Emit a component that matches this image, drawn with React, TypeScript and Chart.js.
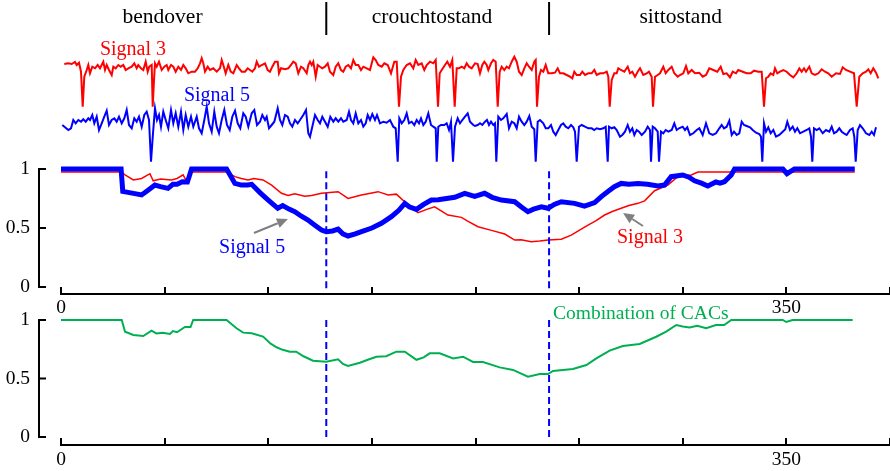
import React, { useEffect, useRef } from 'react';
import { Chart, registerables } from 'chart.js';

Chart.register(...registerables);

const FONT = "'Liberation Serif', 'Times New Roman', serif";

// ---- phases / axes ----
const phaseNames = ['bendover', 'crouchtostand', 'sittostand'];
const phaseLabelX = [49, 179, 299];
const phaseBounds = [128, 235.5];
const xTickLabels = [0, 350];
const yTicks = [0, 0.5, 1];

// ---- raw signals (sample index, amplitude) ----
const signal3Raw: [number, number][] = [
  [3.3,4.3],[7.3,4.37],[10.7,4.3],[14,4.5],[15.7,4.2],[18,4.43],[20,3.53],[21.7,0.03],[23.3,3.03],[25.7,3.7],[27.3,4.2],[29,3.37],[31.3,4.03],[34,3.87],[36.7,4.2],[39,3.87],[42.3,4.53],[44,3.7],[45.7,4.2],[48,3.7],[50.7,3.2],[52.3,4.03],[54.7,3.87],[57.3,4.2],[59.7,4.03],[62.3,4.2],[64.7,3.7],[67.3,3.87],[70.7,4.03],[73.3,4.37],[75.7,3.87],[77.3,4.2],[80,3.87],[82.3,3.7],[84.7,4.53],[86.7,3.53],[88.3,4.03],[90.7,4.2],[91.7,0.03],[93,2.7],[94,4.37],[95.7,4.03],[98,4.53],[100.7,3.7],[103.3,4.03],[105.7,4.2],[107.3,3.7],[110,4.2],[112.3,4.03],[114.7,3.53],[117.3,4.03],[120,3.7],[122.3,4.2],[124.7,3.87],[127.3,3.37],[130.7,3.53],[134,3.53],[136.7,3.87],[139,4.37],[140.7,4.87],[142.3,4.37],[144,3.53],[146.7,4.03],[149,3.7],[152.3,3.87],[155.7,3.53],[159,3.87],[160.7,4.7],[162.3,4.2],[164.7,3.37],[167.3,4.2],[169.7,3.53],[172.3,3.37],[175.7,4.2],[178,3.87],[180.7,3.53],[184,3.53],[186.7,3.87],[189,3.7],[191.3,3.53],[194,3.87],[195.7,4.53],[198,4.03],[200.7,4.2],
  [204,4.37],[206.7,3.7],[209,3.53],[211.3,4.03],[214,4.53],[216.7,4.53],[218,3.37],[220,3.87],[224,3.77],[227.3,3.87],[230,4.2],[232.3,4.53],[234.7,4.37],[237.3,3.37],[240,4.03],[242.3,3.87],[245.7,3.37],[247.3,4.2],[249,4.53],[250.7,4.2],[252.3,4.53],[254.7,3.03],[256.7,4.2],[259,4.03],[261.3,3.87],[264,4.03],[266.7,4.37],[269,3.53],[272.3,3.2],[274.7,4.03],[277.3,4.37],[280,3.7],[282.3,3.53],[284.7,4.03],[287.3,4.2],[290,3.87],[292.3,4.7],[294.7,4.2],[297.3,4.2],[300,3.7],[302.3,4.03],[305.7,3.87],[309,3.7],[312.3,4.97],[314.7,4.7],[317.3,4.2],[320.7,4.03],[323.3,4.37],[326.7,4.2],[330,3.37],[333.3,4.53],[335.7,4.53],[338,0.03],[340,3.03],[342.3,3.7],[345.7,4.2],[349,4.37],[352.3,3.87],[354.7,4.7],[357.3,4.2],[360.7,4.37],[363.3,3.7],[365.7,4.2],[369,4.53],[372.3,4.37],[374.7,4.7],[377,0.03],[378.7,3.37],[380.7,3.7],[384,4.2],[386.3,4.53],[389,4.03],[391.3,4.7],[393.7,0.03],[395.7,3.87],[398,3.87],[400.7,4.03],[403.3,3.87],[405.7,4.37],[408,4.03],[410.7,3.87],[414,4.37],
  [416.7,4.3],[419,3.37],[421.3,4.2],[423.3,4.53],[425.7,4.2],[427.3,3.7],[430,4.37],[432.3,4.7],[434.7,4.53],[436.7,0.03],[438.7,3.53],[440.7,4.03],[443.3,3.7],[445.7,4.03],[448,3.87],[450.7,4.53],[453.3,5.03],[455.7,4.53],[458,3.53],[460.7,3.2],[463.3,3.87],[465.7,4.37],[468,4.03],[470.7,3.7],[473.3,4.53],[474.7,4.7],[476,0.03],[478,3.03],[480,3.7],[482.3,3.53],[484.7,4.2],[487.3,3.37],[490.7,3.37],[494,3.43],[496.7,3.87],[499,3.37],[502.3,3.37],[505.7,3.2],[509,3.03],[511.3,2.87],[513.3,3.53],[515.7,3.2],[519,3.2],[521.3,3.53],[524,3.2],[527.3,3.37],[530.7,3.37],[533.3,3.7],[535.7,3.2],[539,3.37],[542.3,3.37],[545.7,3.53],[547.3,3.03],[548.7,0.03],[550.7,2.7],[553.3,3.37],[555.7,3.37],[557.3,3.87],[560,3.7],[563.3,3.53],[566.7,4.03],[569,3.37],[571.3,3.53],[574,3.03],[576.7,3.53],[579,3.87],[582.3,3.2],[585.7,3.37],[588,3.53],[590.7,3.03],[592,0.03],[594,3.03],[596.7,3.2],[599,3.37],[602.3,4.03],[604.7,3.37],[607.3,3.7],[610.7,4.03],[613.3,3.37],[616.7,3.03],
  [619,3.2],[622.3,3.37],[625,4.1],[627.3,3.37],[630.7,3.7],[634,3.37],[638.3,3.43],[641.7,3.03],[645,3.2],[648.3,3.87],[652.3,3.7],[656.3,3.53],[659.7,4.03],[662.3,3.3],[665.7,3.37],[669,2.97],[671.7,3.53],[675,3.37],[677.3,3.7],[681.7,3.53],[685.7,3.37],[689.7,3.37],[693,3.63],[697.3,3.53],[700.7,3.53],[703,0.03],[705,2.87],[707.3,3.03],[709.7,3.37],[712.3,3.2],[714,3.87],[716.3,3.37],[719,3.53],[722.3,3.7],[725.7,3.53],[729,3.2],[732.3,2.97],[735.7,3.37],[738.3,3.87],[740.7,3.53],[743,3.87],[745,3.53],[748.3,4.03],[750.7,3.37],[754,3.2],[757.3,3.37],[760.7,3.77],[764,3.53],[767.3,3.37],[770.7,3.03],[775,3.37],[779,3.3],[781.7,3.97],[785,3.7],[789,3.53],[793,3.37],[795.7,0.03],[798.3,3.03],[801.7,3.37],[805,3.53],[807.3,3.77],[809.7,3.37],[812.3,3.87],[815,3.43],[817.3,2.87],
];

const signal5Raw: [number, number][] = [
  [1.3,3.7],[4,3.47],[7.3,3.2],[10,3.37],[12.3,4.2],[14.7,3.87],[17.3,4.2],[20,4.03],[22.3,4.27],[24.7,4.03],[27.3,4.37],[29,4.2],[31.3,4.7],[33.3,3.87],[35.7,4.53],[38,3.2],[40.7,3.87],[43.3,4.53],[45.7,5.13],[48,3.7],[50.7,4.2],[53.3,4.37],[55.7,4.03],[58,4.53],[60.7,3.87],[63.3,4.37],[65.7,5.2],[68,3.7],[70.7,3.37],[73.3,4.37],[75.7,4.03],[78,4.53],[80.7,3.53],[83.3,4.7],[85.7,5.03],[88,4.2],[90,0.03],[92,2.87],[94,5.37],[96,4.2],[98,4.7],[100,3.53],[102.3,5.03],[104.7,4.2],[107.3,3.37],[110,5.2],[112.3,3.87],[114.7,4.87],[117.3,3.53],[120,5.03],[122.3,3.2],[124.7,4.7],[127.3,3.53],[130,4.53],[132.3,3.53],[135.7,4.53],[138,3.37],[140.7,2.87],[143.3,4.2],[145.7,5.53],[148,3.87],[150.7,3.03],[153.3,5.03],[155.7,3.53],[158,2.87],[160.7,4.2],[163.3,5.2],[166,3.7],[168.7,3.2],[171.3,4.53],[174,5.13],[176.7,3.87],[179.3,3.37],[182.3,4.87],[184.7,4.53],[187.3,3.53],[190.7,4.87],[193.3,5.2],[196,3.7],[199,4.03],[201.3,4.7],
  [204,4.2],[205.7,4.53],[208,3.37],[210.7,3.7],[213.3,4.03],[216.7,5.37],[219,4.2],[221.3,3.7],[224,4.7],[226.7,4.53],[229,3.87],[231.3,3.53],[234,4.2],[236.7,3.87],[239,4.2],[242.3,4.7],[245,5.2],[247.3,2.87],[249,2.53],[251.3,3.53],[254,4.7],[256.7,4.2],[259,3.87],[261.3,4.53],[264,4.03],[266.7,3.53],[269.3,4.53],[272.3,4.03],[274.7,4.37],[277.3,4.03],[280,4.37],[282.3,4.03],[285.7,4.2],[288,5.03],[290,4.2],[292.3,3.87],[294.7,4.87],[297.3,3.87],[300,4.2],[302.3,3.53],[304.7,3.87],[306.7,4.7],[309,4.2],[311.3,4.8],[314,4.2],[316,4.7],[319,3.87],[322.3,4.03],[325.7,3.93],[329,4.2],[332.3,3.53],[334.7,3.37],[336.7,0.03],[338.3,4.37],[340.7,3.87],[343.3,4.2],[345.7,4.87],[348,3.87],[350.7,4.03],[353.3,3.7],[355.7,4.2],[358,3.87],[360,4.37],[362.3,3.7],[364.7,4.03],[367.3,4.87],[370,3.7],[372.3,3.53],[374.7,3.37],[375.7,0.03],[377.3,3.53],[380,3.7],[383.3,3.7],[385.7,3.87],[388,3.2],[390,4.03],[392,0.03],[394,3.53],[396.7,4.37],[399,3.87],[401.3,4.2],[404,4.53],[406.7,4.87],[409,4.03],[412.3,3.7],
  [414,3.6],[416.7,3.7],[419,3.87],[421.3,3.7],[424,4.03],[426,4.2],[428,3.7],[430,4.03],[432.3,3.7],[434,3.87],[435.3,0.03],[437.3,4.53],[440,4.2],[442.3,4.37],[445.7,4.8],[448,3.37],[450.7,4.03],[453.3,3.87],[455.7,3.37],[458,4.53],[460.7,4.03],[463.3,3.7],[465.7,4.03],[468.3,4.6],[470.7,3.53],[473.3,3.27],[474.7,0.03],[476.7,4.03],[479,4.2],[482.3,3.87],[484.7,3.37],[487.3,3.37],[490,3.7],[492.3,3.03],[494.7,2.7],[497.3,3.2],[500,3.7],[502.3,3.87],[504.7,3.53],[507.3,3.37],[510,3.7],[512.3,3.47],[514,3.03],[515.7,0.03],[518,3.53],[520.7,3.7],[524,3.53],[527.3,3.37],[530.7,3.37],[533.3,3.2],[535.7,3.37],[539,3.27],[542.3,3.37],[544.7,3.53],[546.7,0.03],[548,3.53],[550.7,3.37],[553.3,3.47],[555.7,3.2],[559,2.53],[561.3,2.7],[564,3.03],[566.7,3.7],[569,3.03],[571.3,3.37],[573.3,2.7],[575.7,3.2],[578,3.03],[580.7,2.7],[584,3.03],[586.7,3.53],[589,3.2],[590,0.03],[591.7,3.53],[594,3.37],[596.7,3.03],[598,0.03],[600,3.03],[602.3,2.87],[604.7,3.2],[607.3,3.03],[610.7,3.2],[613.3,3.87],[615.7,3.2],[618,3.37],
  [621.7,3.53],[624,3.2],[626.3,3.47],[629,2.7],[632.3,2.87],[635.7,3.2],[638.3,3.37],[641.7,2.7],[645,3.87],[648.3,2.87],[651.7,2.7],[655,2.87],[658.3,3.37],[660.7,3.7],[663,3.37],[665.7,3.53],[668.3,4.13],[670.7,2.7],[673,3.03],[675.7,2.7],[678.3,2.87],[680.7,4.03],[683,3.7],[685.7,3.6],[689,3.47],[691.7,3.2],[695,2.93],[698.3,2.8],[700,2.53],[701.3,0.03],[703,3.87],[705,3.03],[707.3,3.47],[709.7,2.87],[712.3,3.2],[715,2.53],[718.3,2.7],[721.7,3.03],[724.3,3.27],[726.3,4.03],[729,3.2],[731.7,3.53],[734,3.03],[736.3,3.37],[739,2.87],[742.3,3.03],[745.7,3.2],[748.3,3.37],[750,2.53],[751.3,0.03],[753,3.37],[755.7,3.2],[758.3,3.37],[761.7,2.87],[765,3.2],[768.3,3.03],[770.7,3.53],[773,2.87],[775.7,3.03],[778.3,3.37],[780.7,3.03],[783,2.87],[785.7,2.7],[789,3.2],[791.7,3.37],[793.3,2.53],[794.7,0.03],[796.7,3.2],[799,3.7],[801.7,3.37],[805,2.87],[808.3,2.7],[810.7,3.03],[813,2.7],[815,3.47],
];

// ---- CAC curves (time, value) ----
const signal5Cac: [number, number][] = [
  [0,1],[29,1],[29.8,0.81],[33,0.8],[38.9,0.78],[42,0.82],[45.3,0.864],[48,0.85],[51.6,0.836],[54,0.87],[56,0.87],[58.5,0.892],[61,0.89],[63,1],[79.9,1],[83.9,0.878],[87,0.864],[90,0.864],[92,0.87],[96,0.8],[100,0.737],[104.6,0.667],[107,0.69],[110,0.66],[112.8,0.638],[116,0.6],[119.2,0.568],[122,0.53],[125.7,0.483],[128,0.469],[131,0.475],[133.7,0.49],[136,0.45],[138.5,0.432],[142,0.45],[145,0.47],[150,0.5],[154.6,0.54],[159.4,0.596],[163,0.65],[165.9,0.709],[168,0.68],[171.5,0.658],[175,0.7],[178.7,0.737],[182,0.74],[186,0.75],[190,0.76],[194.8,0.794],[199.6,0.768],[204.4,0.794],[208,0.76],[212.5,0.737],[218.9,0.723],[222,0.68],[225.3,0.638],[228,0.66],[231.8,0.68],[235,0.667],[238,0.7],[241.4,0.723],[247.8,0.709],[252.6,0.686],[257.5,0.715],[261,0.77],[263.9,0.81],[267,0.85],[270.3,0.878],[274,0.87],[278.4,0.878],[283,0.87],[288,0.856],[291.2,0.864],[294.4,0.935],[300,0.949],[303,0.93],[305.7,0.9],[309,0.88],[312.1,0.856],[316,0.89],[318,0.88],[320.1,0.892],[323.4,0.949],[325,1],[348.3,1],[350.3,0.96],[353.9,1],[383,1],
];

const signal3Cac: [number, number][] = [
  [0,0.975],[29,0.975],[30.9,0.95],[34.9,0.907],[38.9,0.92],[42.9,0.96],[44.5,0.9],[48,0.915],[53.3,0.907],[56,0.92],[58.9,0.95],[60.5,0.9],[63,0.975],[79.9,0.975],[83.9,0.935],[87,0.92],[90.3,0.907],[93,0.92],[97.5,0.907],[101.6,0.864],[106.4,0.794],[109.6,0.775],[112.8,0.79],[117.6,0.77],[120.9,0.775],[125.7,0.794],[133.7,0.808],[138.5,0.751],[145,0.78],[153,0.808],[157.8,0.78],[161.8,0.787],[167.5,0.695],[172.3,0.63],[176.8,0.66],[180.3,0.68],[186.7,0.61],[193.2,0.59],[196,0.56],[201.2,0.511],[207.7,0.48],[214.1,0.449],[218.9,0.398],[222,0.4],[226.9,0.384],[231,0.39],[235,0.398],[241.4,0.405],[246.2,0.44],[250,0.48],[254.3,0.525],[258,0.56],[262.3,0.61],[266,0.64],[270.3,0.667],[274,0.69],[278.4,0.709],[281.6,0.73],[286.4,0.816],[292.8,0.864],[297.6,0.935],[304.1,0.95],[307.3,0.975],[383,0.975],
];

const combinedCac: [number, number][] = [
  [0,1],[29.3,1],[30.9,0.9],[34.9,0.872],[39.7,0.863],[43.7,0.909],[46,0.885],[49,0.89],[52.6,0.88],[54,0.905],[56,0.895],[59.8,0.94],[62.5,0.94],[63.8,1],[79.9,1],[84.7,0.929],[87.9,0.892],[92,0.886],[97.5,0.858],[101,0.8],[104,0.767],[107,0.745],[110.4,0.729],[113.5,0.729],[117,0.69],[121.6,0.652],[128,0.644],[133.7,0.664],[136,0.625],[138.5,0.607],[144.2,0.635],[148,0.66],[152.2,0.686],[156.9,0.69],[161.8,0.729],[165.9,0.729],[171.5,0.66],[175,0.68],[177.9,0.715],[182.7,0.715],[189.2,0.672],[194,0.686],[198.8,0.641],[203.6,0.641],[211.7,0.595],[218.1,0.573],[225.3,0.516],[231,0.539],[235,0.538],[237.4,0.565],[247,0.581],[253.5,0.615],[258.3,0.672],[264.7,0.738],[271.1,0.778],[279.2,0.795],[287.2,0.857],[292,0.9],[296.9,0.957],[300,0.945],[303.3,0.937],[307,0.95],[311.3,0.929],[316,0.957],[320,0.957],[323.4,1],[348.3,1],[349.9,0.983],[353,1],[382,1],
];

const RED = '#ff0000';
const BLUE = '#0000ff';
const GREEN = '#00b050';
const GRAY = '#808080';

type Note = { text: string; x: number; y: number; xs: string; ys: string; color: string; size: number; align?: CanvasTextAlign };
type Arrow = { x1: number; y1: number; x2: number; y2: number; xs: string; ys: string; color: string };

const pts = (arr: [number, number][]) => arr.map(([x, y]) => ({ x, y }));

function notesPlugin(notes: Note[], arrows: Arrow[]) {
  return {
    id: 'notes',
    afterDatasetsDraw(chart: any) {
      const ctx = chart.ctx as CanvasRenderingContext2D;
      ctx.save();
      arrows.forEach((a) => {
        const xs = chart.scales[a.xs];
        const ys = chart.scales[a.ys];
        const x1 = xs.getPixelForValue(a.x1), y1 = ys.getPixelForValue(a.y1);
        const x2 = xs.getPixelForValue(a.x2), y2 = ys.getPixelForValue(a.y2);
        const ang = Math.atan2(y2 - y1, x2 - x1);
        const len = 11, hw = 5;
        const bx = x2 - len * Math.cos(ang), by = y2 - len * Math.sin(ang);
        ctx.strokeStyle = a.color;
        ctx.fillStyle = a.color;
        ctx.lineWidth = 2;
        ctx.beginPath();
        ctx.moveTo(x1, y1);
        ctx.lineTo(bx, by);
        ctx.stroke();
        ctx.beginPath();
        ctx.moveTo(x2, y2);
        ctx.lineTo(bx + hw * Math.sin(ang), by - hw * Math.cos(ang));
        ctx.lineTo(bx - hw * Math.sin(ang), by + hw * Math.cos(ang));
        ctx.closePath();
        ctx.fill();
      });
      notes.forEach((n) => {
        ctx.font = `${n.size}px ${FONT}`;
        ctx.fillStyle = n.color;
        ctx.textAlign = n.align || 'center';
        ctx.textBaseline = 'alphabetic';
        ctx.fillText(n.text, chart.scales[n.xs].getPixelForValue(n.x), chart.scales[n.ys].getPixelForValue(n.y));
      });
      ctx.restore();
    },
  };
}

const bracketPlugin = {
  id: 'bracket',
  afterDraw(chart: any) {
    const y = chart.scales.y;
    if (!y) return;
    const ctx = chart.ctx as CanvasRenderingContext2D;
    const x0 = chart.chartArea.left - 22;
    ctx.save();
    ctx.strokeStyle = '#000';
    ctx.lineWidth = 2;
    ctx.beginPath();
    ctx.moveTo(x0, y.getPixelForValue(yTicks[yTicks.length - 1]));
    ctx.lineTo(x0, y.getPixelForValue(yTicks[0]));
    yTicks.forEach((v) => {
      const p = y.getPixelForValue(v);
      ctx.moveTo(x0 - 1, p);
      ctx.lineTo(x0 + 7, p);
    });
    ctx.stroke();
    ctx.restore();
  },
};

function panelScales(yMin: number, xHeight: number, labelPad: number) {
  return {
    x: {
      type: 'linear',
      min: 0,
      max: 400,
      border: { display: true, color: '#000', width: 2 },
      grid: { display: true, drawOnChartArea: false, drawTicks: true, tickLength: -7, color: '#000', lineWidth: 2 },
      ticks: {
        stepSize: 50,
        autoSkip: false,
        maxRotation: 0,
        padding: labelPad,
        color: '#000',
        font: { family: FONT, size: 19.5, lineHeight: 1.2 },
        callback: (v: any) => (xTickLabels.includes(Number(v)) ? String(v) : ''),
      },
      afterFit: (s: any) => {
        s.height = xHeight;
        s.paddingLeft = 0;
        s.paddingRight = 0;
      },
    },
    y: {
      type: 'linear',
      min: yMin,
      max: 1,
      border: { display: false },
      grid: { display: false, drawTicks: false },
      afterBuildTicks: (s: any) => {
        s.ticks = yTicks.map((v) => ({ value: v }));
      },
      ticks: {
        padding: 31,
        color: '#000',
        font: { family: FONT, size: 19.5 },
        callback: (v: any) => String(v),
      },
      afterFit: (s: any) => {
        s.width = 61;
        s.paddingTop = 0;
        s.paddingBottom = 0;
      },
    },
  };
}

const baseOpts = {
  responsive: false,
  maintainAspectRatio: false,
  animation: false,
  events: [],
  plugins: { legend: { display: false }, tooltip: { enabled: false } },
  elements: { point: { radius: 0 }, line: { tension: 0 } },
};

export default function App() {
  const topRef = useRef<HTMLCanvasElement>(null);
  const midRef = useRef<HTMLCanvasElement>(null);
  const botRef = useRef<HTMLCanvasElement>(null);

  useEffect(() => {
    const charts: Chart[] = [];

    // ---- top: raw signals and phase labels ----
    charts.push(
      new Chart(topRef.current!, {
        type: 'line',
        data: {
          datasets: [
            { label: 'Signal 3', data: pts(signal3Raw), xAxisID: 'xs', yAxisID: 'y3', borderColor: RED, borderWidth: 2, pointRadius: 0 },
            { label: 'Signal 5', data: pts(signal5Raw), xAxisID: 'xs', yAxisID: 'y5', borderColor: BLUE, borderWidth: 2, pointRadius: 0 },
            ...phaseBounds.map((b) => ({
              label: 'boundary',
              data: [{ x: b, y: 0 }, { x: b, y: 1 }],
              xAxisID: 'x',
              yAxisID: 'yPhase',
              borderColor: '#000',
              borderWidth: 2,
              pointRadius: 0,
            })),
          ],
        },
        options: {
          ...baseOpts,
          layout: { padding: { left: 61, right: 0, top: 0, bottom: 0 } },
          scales: {
            x: { type: 'linear', min: 0, max: 400, display: false },
            xs: { type: 'linear', axis: 'x', min: 0, max: 829, display: false },
            y3: { type: 'linear', axis: 'y', min: -5.8, max: 10.7, display: false },
            y5: { type: 'linear', axis: 'y', min: -0.3, max: 16.2, display: false },
            yPhase: { type: 'linear', axis: 'y', min: -3.939, max: 1.0606, display: false },
          },
        } as any,
        plugins: [
          notesPlugin(
            [
              ...phaseNames.map((t, i) => ({ text: t, x: phaseLabelX[i], y: 0.364, xs: 'x', ys: 'yPhase', color: '#000', size: 21.5 })),
              { text: 'Signal 3', x: 72, y: 5.2, xs: 'xs', ys: 'y3', color: RED, size: 20 },
              { text: 'Signal 5', x: 156, y: 6.1, xs: 'xs', ys: 'y5', color: BLUE, size: 20 },
            ],
            []
          ),
        ],
      })
    );

    // ---- middle: CAC of signal 3 and signal 5 ----
    charts.push(
      new Chart(midRef.current!, {
        type: 'line',
        data: {
          datasets: [
            ...phaseBounds.map((b) => ({
              label: 'phase',
              data: [{ x: b, y: -0.01 }, { x: b, y: 1.01 }],
              borderColor: BLUE,
              borderWidth: 2,
              borderDash: [7, 4],
              pointRadius: 0,
              clip: false,
            })),
            { label: 'Signal 5', data: pts(signal5Cac), borderColor: BLUE, borderWidth: 5, pointRadius: 0, clip: false },
            { label: 'Signal 3', data: pts(signal3Cac), borderColor: RED, borderWidth: 1.5, pointRadius: 0, clip: false },
          ],
        },
        options: {
          ...baseOpts,
          layout: { padding: { left: 0, right: 0, top: 9, bottom: 0 } },
          scales: panelScales(-7 / 118, 22, 9),
        } as any,
        plugins: [
          bracketPlugin,
          notesPlugin(
            [
              { text: 'Signal 5', x: 92.2, y: 0.288, xs: 'x', ys: 'y', color: BLUE, size: 20 },
              { text: 'Signal 3', x: 284.2, y: 0.373, xs: 'x', ys: 'y', color: RED, size: 20 },
            ],
            [
              { x1: 93.1, y1: 0.458, x2: 109.5, y2: 0.576, xs: 'x', ys: 'y', color: GRAY },
              { x1: 280.8, y1: 0.517, x2: 271.2, y2: 0.627, xs: 'x', ys: 'y', color: GRAY },
            ]
          ),
        ],
      })
    );

    // ---- bottom: combination ----
    charts.push(
      new Chart(botRef.current!, {
        type: 'line',
        data: {
          datasets: [
            ...phaseBounds.map((b) => ({
              label: 'phase',
              data: [{ x: b, y: 0 }, { x: b, y: 1.03 }],
              borderColor: BLUE,
              borderWidth: 2,
              borderDash: [7, 4],
              pointRadius: 0,
              clip: false,
            })),
            { label: 'Combination of CACs', data: pts(combinedCac), borderColor: GREEN, borderWidth: 2, pointRadius: 0, clip: false },
          ],
        },
        options: {
          ...baseOpts,
          layout: { padding: { left: 0, right: 0, top: 24, bottom: 0 } },
          scales: panelScales(-8 / 117, 26, 10),
        } as any,
        plugins: [
          bracketPlugin,
          notesPlugin([{ text: 'Combination of CACs', x: 237.4, y: 1.009, xs: 'x', ys: 'y', color: GREEN, size: 19.5, align: 'left' }], []),
        ],
      })
    );

    return () => charts.forEach((c) => c.destroy());
  }, []);

  return (
    <div style={{ position: 'absolute', left: 0, top: 0, width: 890, height: 471, background: '#fff', overflow: 'hidden' }}>
      <canvas ref={topRef} width={890} height={165} style={{ position: 'absolute', left: 0, top: 0 }} />
      <canvas ref={midRef} width={890} height={156} style={{ position: 'absolute', left: 0, top: 160 }} />
      <canvas ref={botRef} width={890} height={175} style={{ position: 'absolute', left: 0, top: 296 }} />
    </div>
  );
}
